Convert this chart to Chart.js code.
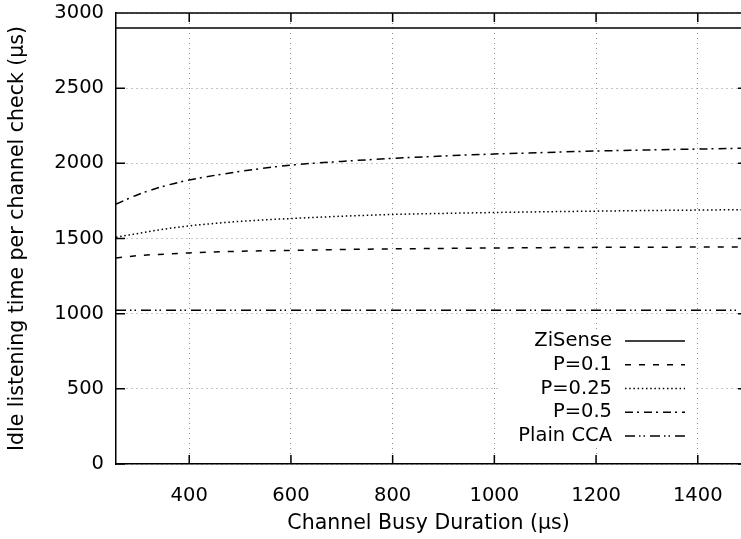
<!DOCTYPE html>
<html><head><meta charset="utf-8">
<script src="https://cdn.jsdelivr.net/npm/chart.js@4.4.1/dist/chart.umd.min.js"></script>
<style>html,body{margin:0;padding:0;background:#fff;overflow:hidden}#wrap{width:741px;height:539px;position:relative}</style>
</head><body><div id="wrap"><canvas id="c"></canvas></div>
<script>
// ---- data ----
const xValues   = [256, 300, 350, 400, 500, 600, 700, 800, 900, 1000, 1100, 1200, 1300, 1400, 1485];
const seriesNames = ['ZiSense', 'P=0.1', 'P=0.25', 'P=0.5', 'Plain CCA'];
const ziSense   = [2900, 2900, 2900, 2900, 2900, 2900, 2900, 2900, 2900, 2900, 2900, 2900, 2900, 2900, 2900];
const p01       = [1371, 1386, 1396, 1404, 1415, 1421, 1427, 1431, 1434, 1437, 1439, 1441, 1442, 1443, 1444];
const p025      = [1508, 1534, 1562, 1584, 1614, 1633, 1648, 1660, 1667, 1673, 1678, 1682, 1686, 1689, 1692];
const p05       = [1729, 1793, 1848, 1889, 1946, 1988, 2013, 2033, 2049, 2062, 2072, 2082, 2089, 2095, 2100];
const plainCCA  = [1022, 1022, 1022, 1022, 1022, 1022, 1022, 1022, 1022, 1022, 1022, 1022, 1022, 1022, 1022];
const xTickValues = [400, 600, 800, 1000, 1200, 1400];
const yTickValues = [0, 500, 1000, 1500, 2000, 2500, 3000];
const xTitle = 'Channel Busy Duration (µs)';
const yTitle = 'Idle listening time per channel check (µs)';

// ---- styles ----
const seriesValues = [ziSense, p01, p025, p05, plainCCA];
const dashes = [[], [6, 8], [1.5, 2.7], [8, 4, 2, 5], [10, 4, 1.5, 3, 1.5, 5]];
const FONT = 'DejaVu Sans';
Chart.defaults.font.family = FONT;
Chart.defaults.font.size = 19.5;
Chart.defaults.color = '#000';

const datasets = seriesNames.map((name, i) => ({
  label: name,
  data: xValues.map((x, j) => ({x: x, y: seriesValues[i][j]})),
  borderColor: '#000',
  borderWidth: 1.5,
  borderDash: dashes[i],
  pointRadius: 0,
  fill: false,
  cubicInterpolationMode: 'monotone'
}));

const framePlugin = {
  id: 'frame',
  afterDatasetsDraw(chart) {
    const {ctx, chartArea: a, scales: {x, y}} = chart;
    ctx.save();
    ctx.strokeStyle = '#000';
    ctx.lineWidth = 1.5;
    ctx.setLineDash([]);
    ctx.beginPath();
    ctx.moveTo(a.left, a.top); ctx.lineTo(a.right, a.top);
    yTickValues.forEach(v => {
      const py = y.getPixelForValue(v);
      ctx.moveTo(a.left, py); ctx.lineTo(a.left + 9, py);
      ctx.moveTo(a.right, py); ctx.lineTo(a.right - 3, py);
    });
    xTickValues.forEach(v => {
      const px = x.getPixelForValue(v);
      ctx.moveTo(px, a.bottom); ctx.lineTo(px, a.bottom - 9);
      ctx.moveTo(px, a.top); ctx.lineTo(px, a.top + 9);
    });
    ctx.stroke();
    ctx.restore();
  }
};

const legendPlugin = {
  id: 'gpLegend',
  afterDatasetsDraw(chart) {
    const ctx = chart.ctx;
    const textRight = 612, sx1 = 625, sx2 = 685, y0 = 341, dy = 23.75;
    ctx.save();
    ctx.fillStyle = '#fff';
    ctx.fillRect(498, 329, 197, 119);
    ctx.font = '19.5px "' + FONT + '"';
    ctx.textAlign = 'right';
    ctx.textBaseline = 'middle';
    chart.data.datasets.forEach((ds, i) => {
      const yy = y0 + i * dy;
      ctx.fillStyle = '#000';
      ctx.fillText(ds.label, textRight, yy);
      ctx.strokeStyle = '#000';
      ctx.lineWidth = 1.5;
      ctx.setLineDash(ds.borderDash || []);
      ctx.beginPath();
      ctx.moveTo(sx1, yy); ctx.lineTo(sx2, yy);
      ctx.stroke();
    });
    ctx.restore();
  }
};

new Chart(document.getElementById('c'), {
  type: 'line',
  data: {datasets: datasets},
  options: {
    responsive: true,
    maintainAspectRatio: false,
    animation: false,
    layout: {padding: {left: 0, top: 13, right: 0, bottom: 0}},
    plugins: {legend: {display: false}, tooltip: {enabled: false}},
    scales: {
      x: {
        type: 'linear', position: 'bottom', min: 256, max: 1485,
        afterBuildTicks: s => { s.ticks = xTickValues.map(v => ({value: v})); },
        afterFit: s => { s.height = 75; s.paddingLeft = 0; s.paddingRight = 0; },
        grid: {color: '#8c8c8c', lineWidth: 1, drawTicks: false},
        border: {color: '#000', width: 1.5, dash: [1, 4]},
        ticks: {padding: 20, maxRotation: 0, autoSkip: false, callback: v => String(v)},
        title: {display: true, text: xTitle, padding: {top: 0, bottom: 3}, font: {size: 20.5}}
      },
      y: {
        type: 'linear', position: 'left', min: 0, max: 3000,
        afterBuildTicks: s => { s.ticks = yTickValues.map(v => ({value: v})); },
        afterFit: s => { s.width = 116; s.paddingTop = 0; s.paddingBottom = 0; },
        grid: {color: '#8c8c8c', lineWidth: 1, drawTicks: false},
        border: {color: '#000', width: 1.5, dash: [1, 4]},
        ticks: {padding: 12, callback: v => String(v)},
        title: {display: true, text: yTitle, padding: {top: 5, bottom: 0}, font: {size: 20.5}}
      }
    }
  },
  plugins: [framePlugin, legendPlugin]
});
</script>
</body></html>
